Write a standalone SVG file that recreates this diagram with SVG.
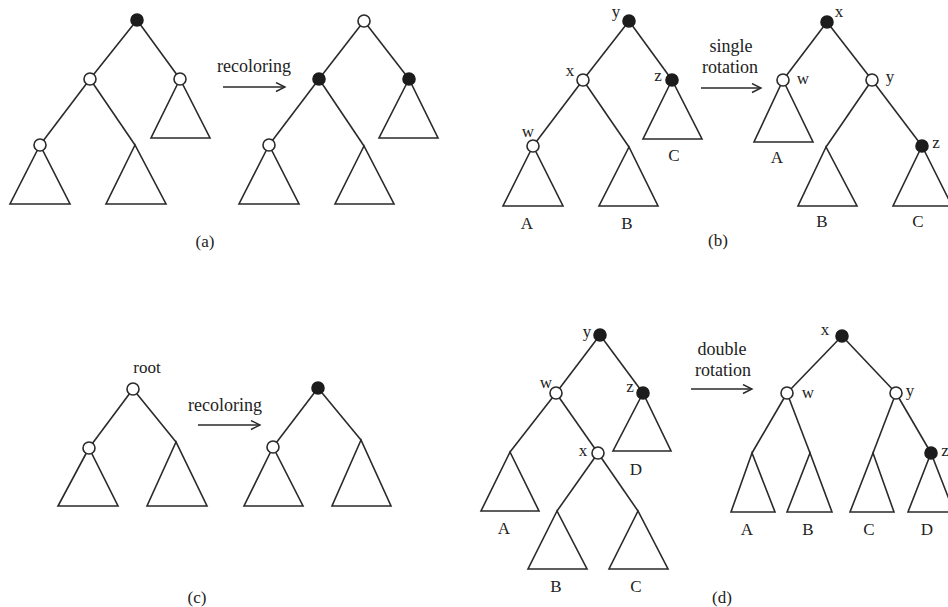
<svg xmlns="http://www.w3.org/2000/svg" width="948" height="607" viewBox="0 0 948 607">
<defs>
<marker id="arr" markerWidth="12" markerHeight="12" refX="10" refY="5" orient="auto" markerUnits="userSpaceOnUse">
<path d="M1,0.5 L10,5 L1,9.5" fill="none" stroke="#2a2a2a" stroke-width="1.4"/>
</marker>
</defs>
<style>
.e{stroke:#2a2a2a;stroke-width:1.6;fill:none}
.t{stroke:#2a2a2a;stroke-width:1.6;fill:none;stroke-linejoin:miter}
.w{fill:#fff;stroke:#2a2a2a;stroke-width:1.6}
.b{fill:#1c1c1c;stroke:#1c1c1c;stroke-width:1.6}
.a{stroke:#2a2a2a;stroke-width:1.5;fill:none}
text{font-family:"Liberation Serif","Times New Roman",serif;fill:#222;font-size:17px;text-anchor:middle}
.lg{font-size:18px}
</style>
<rect width="948" height="607" fill="#fff"/>

<g id="connectors">
<line class="e" x1="137" y1="20" x2="90" y2="79"/>
<line class="e" x1="137" y1="20" x2="180" y2="79"/>
<line class="e" x1="90" y1="79" x2="40" y2="145"/>
<line class="e" x1="90" y1="79" x2="135" y2="145"/>
<line class="e" x1="364" y1="21" x2="319" y2="79"/>
<line class="e" x1="364" y1="21" x2="409" y2="79"/>
<line class="e" x1="319" y1="79" x2="269" y2="145"/>
<line class="e" x1="319" y1="79" x2="364" y2="146"/>
<line class="e" x1="629" y1="21" x2="583" y2="80"/>
<line class="e" x1="629" y1="21" x2="672" y2="80"/>
<line class="e" x1="583" y1="80" x2="533" y2="146"/>
<line class="e" x1="583" y1="80" x2="629" y2="147"/>
<line class="e" x1="827" y1="22" x2="783" y2="80"/>
<line class="e" x1="827" y1="22" x2="872" y2="80"/>
<line class="e" x1="872" y1="80" x2="826" y2="147"/>
<line class="e" x1="872" y1="80" x2="922" y2="146"/>
<line class="e" x1="133" y1="389" x2="89" y2="448"/>
<line class="e" x1="133" y1="389" x2="176" y2="442"/>
<line class="e" x1="318" y1="388" x2="273" y2="447"/>
<line class="e" x1="318" y1="388" x2="361" y2="440"/>
<line class="e" x1="600" y1="335" x2="556" y2="393"/>
<line class="e" x1="600" y1="335" x2="643" y2="393"/>
<line class="e" x1="556" y1="393" x2="510" y2="452"/>
<line class="e" x1="556" y1="393" x2="598" y2="453"/>
<line class="e" x1="598" y1="453" x2="557" y2="511"/>
<line class="e" x1="598" y1="453" x2="638" y2="511"/>
<line class="e" x1="842" y1="336" x2="787" y2="393"/>
<line class="e" x1="842" y1="336" x2="896" y2="393"/>
<line class="e" x1="787" y1="393" x2="752" y2="453"/>
<line class="e" x1="787" y1="393" x2="810" y2="453"/>
<line class="e" x1="896" y1="393" x2="873" y2="453"/>
<line class="e" x1="896" y1="393" x2="931" y2="453"/>
<line class="a" x1="223" y1="87" x2="285" y2="87" marker-end="url(#arr)"/>
<line class="a" x1="701" y1="88" x2="761" y2="88" marker-end="url(#arr)"/>
<line class="a" x1="198" y1="425" x2="260" y2="425" marker-end="url(#arr)"/>
<line class="a" x1="691" y1="389" x2="752" y2="389" marker-end="url(#arr)"/>
</g>

<g id="a-l-tri1"><polygon class="t" points="40,145 10,204 70,204"/></g>
<g id="a-l-tri2"><polygon class="t" points="135,145 106,204 166,204"/></g>
<g id="a-l-tri3"><polygon class="t" points="180,79 151,138 210,138"/></g>
<g id="a-r-tri1"><polygon class="t" points="269,145 239,204 299,204"/></g>
<g id="a-r-tri2"><polygon class="t" points="364,146 335,204 394,204"/></g>
<g id="a-r-tri3"><polygon class="t" points="409,79 379,138 438,138"/></g>

<g id="b-l-A"><polygon class="t" points="533,146 503,206 563,206"/><text x="527" y="229">A</text></g>
<g id="b-l-B"><polygon class="t" points="629,147 599,206 658,206"/><text x="627" y="229">B</text></g>
<g id="b-l-C"><polygon class="t" points="672,80 643,139 702,139"/><text x="674" y="161">C</text></g>
<g id="b-r-A"><polygon class="t" points="783,80 754,142 813,142"/><text x="777" y="163">A</text></g>
<g id="b-r-B"><polygon class="t" points="826,147 798,206 857,206"/><text x="822" y="227">B</text></g>
<g id="b-r-C"><polygon class="t" points="922,146 893,206 952,206"/><text x="918" y="227">C</text></g>

<g id="c-l-tri1"><polygon class="t" points="89,448 58,506 118,506"/></g>
<g id="c-l-tri2"><polygon class="t" points="176,442 147,506 207,506"/></g>
<g id="c-r-tri1"><polygon class="t" points="273,447 244,506 303,506"/></g>
<g id="c-r-tri2"><polygon class="t" points="361,440 332,506 391,506"/></g>

<g id="d-l-A"><polygon class="t" points="510,452 481,511 539,511"/><text x="504" y="534">A</text></g>
<g id="d-l-B"><polygon class="t" points="557,511 528,569 587,569"/><text x="556" y="592">B</text></g>
<g id="d-l-C"><polygon class="t" points="638,511 609,569 668,569"/><text x="636" y="592">C</text></g>
<g id="d-l-D"><polygon class="t" points="643,393 613,451 671,451"/><text x="636" y="475">D</text></g>
<g id="d-r-A"><polygon class="t" points="752,453 731,512 775,512"/><text x="747" y="535">A</text></g>
<g id="d-r-B"><polygon class="t" points="810,453 787,512 832,512"/><text x="808" y="535">B</text></g>
<g id="d-r-C"><polygon class="t" points="873,453 850,512 894,512"/><text x="869" y="535">C</text></g>
<g id="d-r-D"><polygon class="t" points="931,453 908,512 954,512"/><text x="927" y="535">D</text></g>

<g id="a-l-root"><circle class="b" cx="137" cy="20" r="6"/></g>
<g id="a-l-n1"><circle class="w" cx="90" cy="79" r="6"/></g>
<g id="a-l-n2"><circle class="w" cx="180" cy="79" r="6"/></g>
<g id="a-l-n3"><circle class="w" cx="40" cy="145" r="6"/></g>
<g id="a-r-root"><circle class="w" cx="364" cy="21" r="6"/></g>
<g id="a-r-n1"><circle class="b" cx="319" cy="79" r="6"/></g>
<g id="a-r-n2"><circle class="b" cx="409" cy="79" r="6"/></g>
<g id="a-r-n3"><circle class="w" cx="269" cy="145" r="6"/></g>

<g id="b-l-y"><circle class="b" cx="629" cy="21" r="6"/><text x="616" y="17">y</text></g>
<g id="b-l-x"><circle class="w" cx="583" cy="80" r="6"/><text x="570" y="76">x</text></g>
<g id="b-l-z"><circle class="b" cx="672" cy="80" r="6"/><text x="658" y="81">z</text></g>
<g id="b-l-w"><circle class="w" cx="533" cy="146" r="6"/><text x="528" y="137">w</text></g>
<g id="b-r-x"><circle class="b" cx="827" cy="22" r="6"/><text x="839" y="17">x</text></g>
<g id="b-r-w"><circle class="w" cx="783" cy="80" r="6"/><text x="803" y="84">w</text></g>
<g id="b-r-y"><circle class="w" cx="872" cy="80" r="6"/><text x="890" y="82">y</text></g>
<g id="b-r-z"><circle class="b" cx="922" cy="146" r="6"/><text x="936" y="148">z</text></g>

<g id="c-l-root"><circle class="w" cx="133" cy="389" r="6"/><text x="147" y="373">root</text></g>
<g id="c-l-n1"><circle class="w" cx="89" cy="448" r="6"/></g>
<g id="c-r-root"><circle class="b" cx="318" cy="388" r="6"/></g>
<g id="c-r-n1"><circle class="w" cx="273" cy="447" r="6"/></g>

<g id="d-l-y"><circle class="b" cx="600" cy="335" r="6"/><text x="587" y="337">y</text></g>
<g id="d-l-w"><circle class="w" cx="556" cy="393" r="6"/><text x="546" y="388">w</text></g>
<g id="d-l-z"><circle class="b" cx="643" cy="393" r="6"/><text x="630" y="392">z</text></g>
<g id="d-l-x"><circle class="w" cx="598" cy="453" r="6"/><text x="583" y="456">x</text></g>
<g id="d-r-x"><circle class="b" cx="842" cy="336" r="6"/><text x="825" y="335">x</text></g>
<g id="d-r-w"><circle class="w" cx="787" cy="393" r="6"/><text x="808" y="398">w</text></g>
<g id="d-r-y"><circle class="w" cx="896" cy="393" r="6"/><text x="910" y="396">y</text></g>
<g id="d-r-z"><circle class="b" cx="931" cy="453" r="6"/><text x="945" y="456">z</text></g>

<g id="lbl-a"><text class="lg" x="254" y="72">recoloring</text></g>
<g id="lbl-b"><text class="lg" x="731" y="52">single</text><text class="lg" x="730" y="73">rotation</text></g>
<g id="lbl-c"><text class="lg" x="225" y="411">recoloring</text></g>
<g id="lbl-d"><text class="lg" x="722" y="355">double</text><text class="lg" x="723" y="376">rotation</text></g>

<g id="cap-a"><text x="205" y="247">(a)</text></g>
<g id="cap-b"><text x="718" y="246">(b)</text></g>
<g id="cap-c"><text x="197" y="603">(c)</text></g>
<g id="cap-d"><text x="722" y="603">(d)</text></g>
</svg>
